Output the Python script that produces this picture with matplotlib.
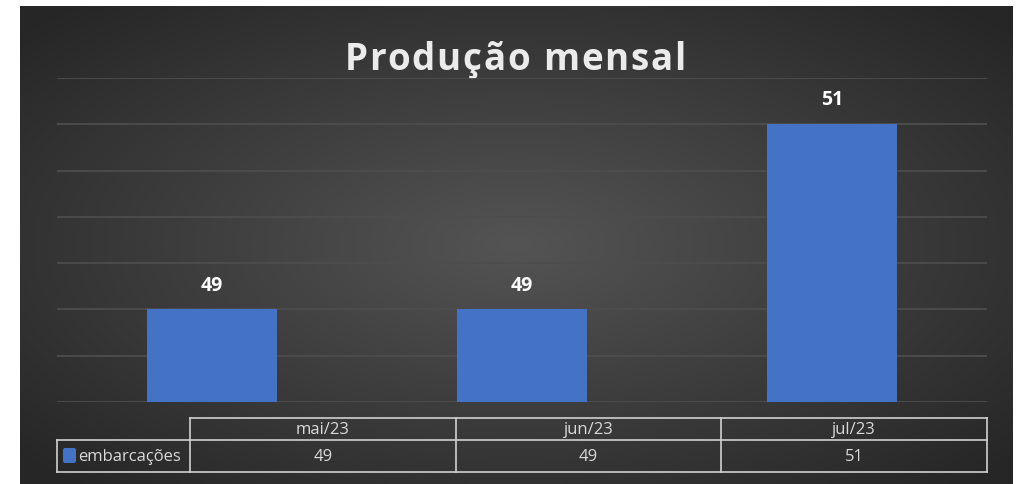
import numpy as np
import matplotlib
matplotlib.use("Agg")
import matplotlib.pyplot as plt
from matplotlib.patches import FancyBboxPatch

# data
months = ["mai/23", "jun/23", "jul/23"]
embarcacoes = [49, 49, 51]
series_name = "embarcações"
title = "Produção mensal"

W, H = 1016, 485
bar_color = "#4472C4"
text_color = "#D9D9D9"
grid_color = "#4D4D4D"

fig = plt.figure(figsize=(W / 100, H / 100), dpi=100)
fig.patch.set_facecolor("white")

# background panel with radial gradient (pixel coords)
bg = fig.add_axes([0, 0, 1, 1])
bg.set_xlim(0, W)
bg.set_ylim(H, 0)
bg.axis("off")
px0, px1, py0, py1 = 20, 1013, 7, 485
xx, yy = np.meshgrid(np.linspace(px0, px1, 400), np.linspace(py0, py1, 200))
cx, cy = (px0 + px1) / 2, (py0 + py1) / 2
r = np.sqrt(((xx - cx) / ((px1 - px0) / 2)) ** 2 + ((yy - cy) / ((py1 - py0) / 2)) ** 2)
r = np.clip(r / 1.35, 0, 1)
shade = 0.33 - 0.18 * r
img = np.dstack([shade, shade, shade])
bg.imshow(img, extent=(px0, px1, py1, py0), aspect="auto", zorder=0)

# title, letter-spaced, drawn char by char
renderer = fig.canvas.get_renderer()
tkw = dict(fontsize=26.5, fontweight="bold", family="Open Sans")


def text_w(s):
    t = bg.text(0, 0, s, **tkw)
    w = t.get_window_extent(renderer).width
    t.remove()
    return w


spacing = 1.8
bar_w = text_w("|")
offs = [text_w(title[:i] + "|") - bar_w if i else 0.0 for i in range(len(title))]
total = text_w(title) + spacing * (len(title) - 1)
x0 = 515 - total / 2
for i, ch in enumerate(title):
    if ch == " ":
        continue
    bg.text(x0 + offs[i] + spacing * i, 70, ch, ha="left", va="baseline",
            color="#EBEBEB", **tkw)

# main bar axes
ax = fig.add_axes([57 / W, 1 - 403 / H, (987 - 57) / W, (403 - 79) / H])
ax.set_facecolor("none")
ax.set_xlim(-0.5, 2.5)
ax.set_ylim(48, 51.5)
x = np.arange(len(months))
ax.bar(x, np.array(embarcacoes) - 48, bottom=48, width=0.42, color=bar_color, zorder=3)
for xi, v in zip(x, embarcacoes):
    ax.text(xi, v + 0.16, str(v), ha="center", va="bottom", color="white",
            fontsize=14, fontweight="bold", family="Open Sans")
for gy in np.arange(48.0, 51.51, 0.5):
    ax.axhline(gy, color=grid_color, lw=1.3, zorder=1)
for s in ax.spines.values():
    s.set_visible(False)
ax.set_xticks([])
ax.set_yticks([])

# data table under the chart
tl, tr = 57, 987
lab_r = 190
h0, h1, h2 = 419, 441, 473
edges = np.linspace(lab_r, tr, len(months) + 1)
lc = "#D0D0D0"
bg.plot([lab_r, tr], [h0, h0], color=lc, lw=1.2)
bg.plot([tl, tr], [h1, h1], color=lc, lw=1.2)
bg.plot([tl, tr], [h2, h2], color=lc, lw=1.2)
bg.plot([tl, tl], [h1, h2], color=lc, lw=1.2)
for e in edges:
    bg.plot([e, e], [h0, h2], color=lc, lw=1.2)
for i, m in enumerate(months):
    xc = (edges[i] + edges[i + 1]) / 2
    bg.text(xc, (h0 + h1) / 2, m, ha="center", va="center", color=text_color,
            fontsize=12, family="Open Sans")
    bg.text(xc, (h1 + h2) / 2, str(embarcacoes[i]), ha="center", va="center",
            color=text_color, fontsize=12, family="Open Sans")
bg.add_patch(FancyBboxPatch((63, 449), 13, 15, boxstyle="round,pad=0,rounding_size=2",
                            facecolor=bar_color, edgecolor="none"))
bg.text(78, (h1 + h2) / 2, series_name, ha="left", va="center", color=text_color,
        fontsize=12, family="Open Sans")

fig.savefig("out.png", dpi=100, facecolor="white")
